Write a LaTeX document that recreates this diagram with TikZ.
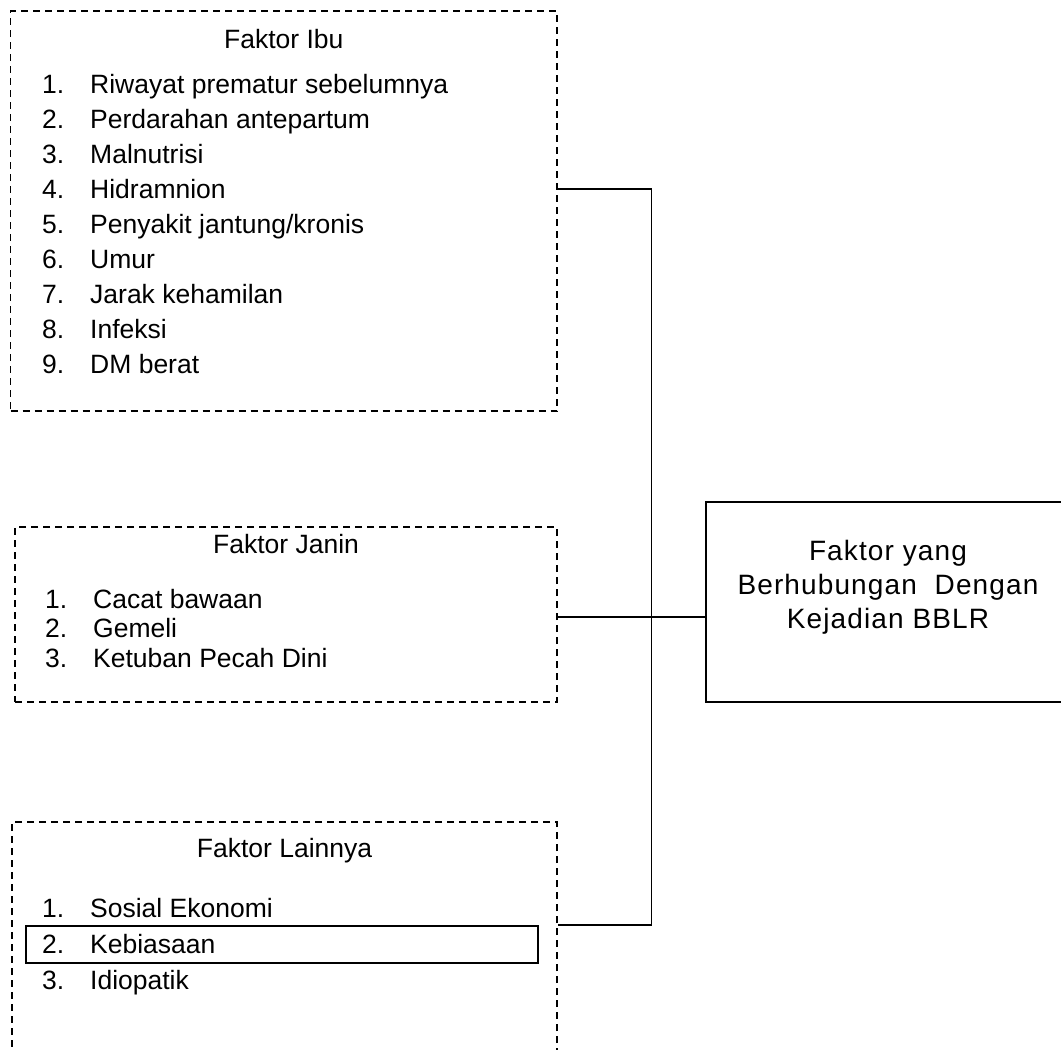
\documentclass[tikz,border=0pt]{standalone}
\usepackage{fontspec}
\setmainfont{Liberation Sans}
\newfontfamily\widefont[LetterSpace=4]{Liberation Sans}
\begin{document}
\begin{tikzpicture}[x=1pt,y=-1pt,
  dbox/.style={draw,dash pattern=on 7pt off 5pt,line width=1.9pt,rectangle,inner sep=0pt},
  sbox/.style={draw,line width=1.9pt,rectangle,inner sep=0pt},
  mbox/.style={draw,line width=2.5pt,rectangle,inner sep=0pt},
  ttl/.style={anchor=base,inner sep=0pt,font=\fontsize{26.5}{30}\selectfont},
  itm/.style={anchor=base west,inner sep=0pt,font=\fontsize{26.5}{30}\selectfont},
  mtx/.style={anchor=base,inner sep=0pt,font=\widefont\fontsize{28}{32}\selectfont},
  conn/.style={line width=1.9pt}]
\useasboundingbox (0,0) rectangle (1061,1050);
% boxes
\node[dbox,minimum width=546.5pt,minimum height=400pt] (ibu) at (283.75,211) {};
\node[dbox,minimum width=542pt,minimum height=175pt] (janin) at (286,614.5) {};
\node[dbox,minimum width=545pt,minimum height=300pt] (lain) at (284.5,972) {};
\node[mbox,minimum width=364pt,minimum height=200pt] (main) at (888,602) {};
\node[sbox,minimum width=512pt,minimum height=37pt] (keb) at (282,944.5) {};
% titles
\node[ttl] (tibu) at (283.75,48) {Faktor Ibu};
\node[ttl] (tjanin) at (286,553) {Faktor Janin};
\node[ttl] (tlain) at (284.5,857) {Faktor Lainnya};
% items
\foreach \t [count=\i] in {Riwayat prematur sebelumnya,Perdarahan antepartum,Malnutrisi,Hidramnion,Penyakit jantung/kronis,Umur,Jarak kehamilan,Infeksi,DM berat}
  \node[itm] (ibu\i) at (42,{93+35*(\i-1)}) {\makebox[48pt][l]{\i.}\t};
\foreach \t [count=\i] in {Cacat bawaan,Gemeli,Ketuban Pecah Dini}
  \node[itm] (janin\i) at (45,{608+29.8*(\i-1)}) {\makebox[48pt][l]{\i.}\t};
\foreach \t [count=\i] in {Sosial Ekonomi,Kebiasaan,Idiopatik}
  \node[itm] (lain\i) at (42,{917+36*(\i-1)}) {\makebox[48pt][l]{\i.}\t};
% main text
\node[mtx] (m1) at (888,560) {Faktor yang};
\node[mtx] (m2) at (888,594) {Berhubungan\ \ Dengan};
\node[mtx] (m3) at (888,628) {Kejadian BBLR};
% connectors
\coordinate (j1) at (651.5,189);
\coordinate (j3) at (651.5,925);
\coordinate (jm) at (651.5,617);
\draw[conn] (ibu.east |- j1) -- (j1) -- (j3) -- (lain.east |- j3);
\draw[conn] (janin.east |- jm) -- (main.west |- jm);
\end{tikzpicture}
\end{document}
